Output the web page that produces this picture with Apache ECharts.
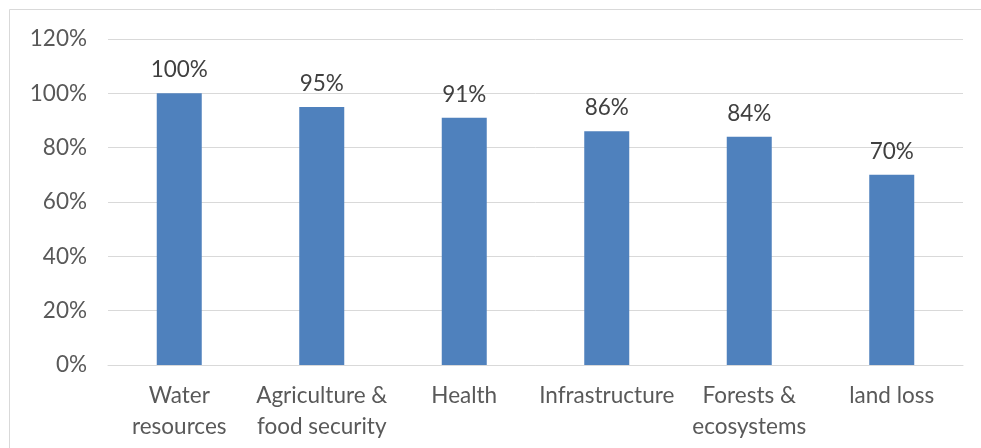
<!DOCTYPE html>
<html>
<head>
<meta charset="utf-8">
<script src="https://cdn.jsdelivr.net/npm/echarts@6/dist/echarts.min.js"></script>
<style>
html,body{margin:0;padding:0;background:#fff;}
#chart{width:981px;height:448px;}
</style>
</head>
<body>
<div id="chart"></div>
<script>
const categories = ['Water\nresources', 'Agriculture &\nfood security', 'Health', 'Infrastructure', 'Forests &\necosystems', 'land loss'];
const values = [100, 95, 91, 86, 84, 70];
const yTicks = [0, 20, 40, 60, 80, 100, 120];

const FONT = "Lato, 'Liberation Sans', sans-serif";
const chart = echarts.init(document.getElementById('chart'), null, {renderer: 'canvas'});
chart.setOption({
  animation: false,
  backgroundColor: '#ffffff',
  graphic: [{
    type: 'rect',
    shape: {x: 9.5, y: 9.5, width: 1000, height: 500},
    style: {fill: 'none', stroke: '#d9d9d9', lineWidth: 1},
    silent: true
  }],
  grid: {left: 108, right: 18, top: 39, bottom: 83, containLabel: false},
  xAxis: {
    type: 'category',
    data: categories,
    axisLine: {show: true, lineStyle: {color: '#d9d9d9', width: 1}},
    axisTick: {show: false},
    axisLabel: {
      color: '#595959', fontFamily: FONT, fontSize: 22.5, lineHeight: 31,
      margin: 15, interval: 0
    }
  },
  yAxis: {
    type: 'value',
    min: yTicks[0], max: yTicks[yTicks.length - 1], interval: 20,
    axisLine: {show: false},
    axisTick: {show: false},
    splitLine: {lineStyle: {color: '#d9d9d9', width: 1}},
    axisLabel: {
      color: '#595959', fontFamily: FONT, fontSize: 22.5, margin: 21,
      formatter: v => v + '%'
    }
  },
  series: [{
    type: 'bar',
    data: values,
    barWidth: 45,
    itemStyle: {color: '#4f81bd'},
    label: {
      show: true, position: 'top', distance: 12,
      color: '#404040', fontFamily: FONT, fontSize: 22.5,
      formatter: p => p.value + '%'
    }
  }]
});
</script>
</body>
</html>
